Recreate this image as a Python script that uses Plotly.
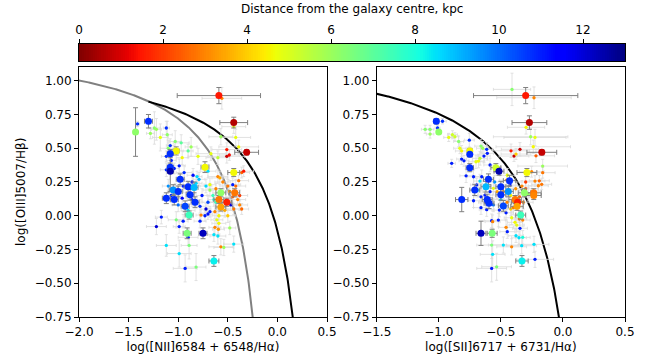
import numpy as np
import plotly.graph_objects as go

# ---------------- data ----------------
# distance-colour range (kpc)
DIST_MIN, DIST_MAX = 0.0, 13.0
cbar_ticks = [0, 2, 4, 6, 8, 10, 12]

# demarcation-line coefficients
KAUFF_NII = (0.61, 0.05, 1.30)   # Kauffmann et al. 2003
KEWLEY_NII = (0.61, 0.47, 1.19)  # Kewley et al. 2001
KEWLEY_SII = (0.72, 0.32, 1.30)  # Kewley et al. 2001

# left panel ([NII]) -- large points
nii_big_x = [-0.59, -0.44, -0.31, -1.30, -1.43, -1.02, -1.08, -1.08, -1.08, -0.98,
             -0.90, -0.84, -0.73, -0.44, -1.05, -1.00, -0.88, -1.12, -1.04, -0.83,
             -0.93, -0.57, -0.43, -0.59, -0.51, -0.57, -0.89, -0.91, -0.75, -0.64]
nii_big_y = [0.89, 0.69, 0.47, 0.70, 0.62, 0.48, 0.46, 0.36, 0.33, 0.27,
             0.215, 0.21, 0.36, 0.32, 0.19, 0.18, 0.155, 0.13, 0.12, 0.10,
             0.07, 0.17, 0.17, 0.12, 0.10, 0.065, 0.005, -0.13, -0.13, -0.335]
nii_big_d = [1.5, 0.6, 0.8, 10.8, 6.2, 4.6, 10.8, 10.8, 12.5, 10.8,
             10.8, 9.0, 4.6, 4.6, 9.5, 10.8, 10.8, 10.8, 10.8, 10.8,
             10.5, 6.2, 2.8, 2.8, 1.6, 3.4, 7.5, 6.5, 12.3, 8.3]
nii_big_ex = [0.42, 0.14, 0.12, 0.04, 0.01, 0.03, 0.03, 0.03, 0.03, 0.04,
              0.04, 0.04, 0.04, 0.06, 0.04, 0.04, 0.04, 0.04, 0.04, 0.04,
              0.04, 0.05, 0.05, 0.05, 0.05, 0.05, 0.04, 0.04, 0.04, 0.05]
nii_big_ey = [0.06, 0.04, 0.02, 0.05, 0.18, 0.03, 0.03, 0.03, 0.15, 0.04,
              0.04, 0.04, 0.04, 0.03, 0.04, 0.04, 0.04, 0.04, 0.04, 0.04,
              0.04, 0.03, 0.03, 0.03, 0.03, 0.03, 0.03, 0.04, 0.04, 0.04]

# left panel ([NII]) -- small points
nii_sm_x = [-1.41, -1.24, -1.22, -1.28, -1.18, -1.12, -1.11, -1.03, -1.10, -1.08,
            -0.97, -0.87, -0.90, -0.80, -0.96, -1.12, -1.07, -0.99, -1.12, -1.04,
            -0.94, -0.85, -0.81, -0.86, -0.82, -1.03, -1.10, -0.95, -1.07, -0.96,
            -1.00, -0.86, -0.90,
            -0.56, -0.44, -0.57, -0.42, -0.39, -0.51, -0.51, -0.485, -0.67, -0.60,
            -0.36, -0.34, -0.60, -0.39, -0.45, -0.70, -0.79, -0.68,
            -0.72, -0.68, -0.65, -0.64, -0.62, -0.55, -0.50, -0.48, -0.45, -0.42,
            -0.40, -0.44, -0.47, -0.53, -0.50, -0.58, -0.62, -0.70, -0.76, -0.78,
            -0.72, -0.68, -0.38, -0.38, -0.36,
            -1.17, -1.22, -1.02, -0.99, -0.95, -0.78, -0.73, -0.70, -0.77, -0.63,
            -0.59, -0.61, -0.59, -0.63, -0.595, -0.48, -0.60, -0.64, -0.90, -0.89,
            -1.12, -0.99, -0.57, -0.54, -0.44, -0.93, -0.82]
nii_sm_y = [0.68, 0.65, 0.64, 0.61, 0.58, 0.65, 0.60, 0.55, 0.50, 0.52,
            0.54, 0.51, 0.48, 0.44, 0.43, 0.44, 0.41, 0.37, 0.34, 0.35,
            0.32, 0.30, 0.29, 0.25, 0.24, 0.18, 0.22, 0.22, 0.15, 0.13,
            0.08, 0.12, 0.04,
            0.87, 0.66, 0.585, 0.58, 0.51, 0.49, 0.44, 0.45, 0.46, 0.43,
            0.32, 0.33, 0.29, 0.26, 0.23, 0.33, 0.27, 0.23,
            0.22, 0.19, 0.15, 0.12, 0.20, 0.25, 0.22, 0.18, 0.14, 0.22,
            0.12, 0.05, 0.08, 0.04, 0.00, 0.28, 0.10, 0.10, 0.15, 0.07,
            0.05, 0.03, 0.15, 0.08, 0.05,
            -0.01, -0.08, -0.03, -0.08, -0.04, -0.04, 0.00, 0.013, 0.005, 0.03,
            0.00, -0.03, -0.056, -0.086, -0.10, -0.09, -0.15, -0.14, -0.16, -0.22,
            -0.22, -0.28, -0.23, -0.235, -0.21, -0.39, -0.38]
nii_sm_d = [10.8, 6.3, 6.0, 6.0, 4.8, 10.8, 6.2, 6.3, 6.3, 10.8,
            7.0, 6.0, 7.0, 4.8, 4.6, 10.8, 11.0, 11.0, 10.8, 11.0,
            10.8, 11.2, 8.6, 11.0, 8.6, 11.0, 9.5, 11.0, 11.0, 11.5,
            10.0, 11.0, 8.5,
            3.0, 4.6, 6.0, 4.8, 4.6, 1.5, 0.8, 1.3, 4.8, 5.4,
            2.5, 1.5, 3.0, 2.8, 11.0, 8.6, 9.0, 4.8,
            8.6, 6.0, 7.5, 8.0, 3.0, 3.0, 2.8, 3.2, 2.5, 2.6,
            3.0, 2.8, 12.0, 3.5, 4.0, 3.5, 7.5, 10.5, 11.0, 10.8,
            12.0, 11.0, 2.0, 3.0, 2.6,
            11.0, 12.0, 6.5, 11.0, 11.0, 11.0, 11.0, 11.2, 3.0, 3.0,
            4.6, 4.8, 4.6, 3.0, 3.2, 6.0, 8.5, 8.5, 11.0, 6.5,
            8.5, 8.5, 3.0, 6.0, 8.5, 11.0, 6.5]
nii_sm_ex = [0.02, 0.06, 0.05, 0.04, 0.08, 0.03, 0.05, 0.06, 0.08, 0.04,
             0.08, 0.06, 0.05, 0.10, 0.06, 0.05, 0.05, 0.06, 0.06, 0.05,
             0.08, 0.06, 0.05, 0.05, 0.06, 0.08, 0.06, 0.06, 0.08, 0.07,
             0.06, 0.05, 0.07,
             0.20, 0.12, 0.12, 0.15, 0.20, 0.15, 0.18, 0.10, 0.15, 0.12,
             0.08, 0.10, 0.10, 0.10, 0.08, 0.08, 0.06, 0.06,
             0.06, 0.07, 0.06, 0.06, 0.08, 0.08, 0.08, 0.08, 0.07, 0.10,
             0.08, 0.07, 0.06, 0.08, 0.08, 0.08, 0.06, 0.06, 0.06, 0.06,
             0.05, 0.05, 0.08, 0.08, 0.07,
             0.06, 0.10, 0.08, 0.06, 0.05, 0.06, 0.05, 0.05, 0.05, 0.08,
             0.07, 0.06, 0.07, 0.06, 0.06, 0.06, 0.08, 0.06, 0.10, 0.08,
             0.10, 0.12, 0.12, 0.10, 0.10, 0.12, 0.10]
nii_sm_ey = [0.02, 0.12, 0.08, 0.04, 0.10, 0.05, 0.10, 0.08, 0.06, 0.05,
             0.06, 0.07, 0.05, 0.06, 0.05, 0.04, 0.06, 0.05, 0.05, 0.04,
             0.05, 0.05, 0.04, 0.05, 0.05, 0.06, 0.05, 0.05, 0.05, 0.06,
             0.05, 0.05, 0.05,
             0.08, 0.05, 0.06, 0.06, 0.05, 0.05, 0.05, 0.04, 0.05, 0.05,
             0.04, 0.04, 0.05, 0.04, 0.05, 0.05, 0.05, 0.05,
             0.05, 0.05, 0.05, 0.05, 0.04, 0.05, 0.05, 0.05, 0.04, 0.05,
             0.04, 0.04, 0.04, 0.05, 0.05, 0.05, 0.05, 0.05, 0.05, 0.05,
             0.04, 0.04, 0.04, 0.04, 0.04,
             0.05, 0.06, 0.06, 0.05, 0.05, 0.05, 0.04, 0.04, 0.04, 0.05,
             0.05, 0.05, 0.05, 0.05, 0.05, 0.05, 0.06, 0.05, 0.06, 0.10,
             0.08, 0.10, 0.06, 0.06, 0.06, 0.10, 0.10]

# right panel ([SII]) -- large points
sii_big_x = [-0.30, -0.27, -0.17, -1.02, -1.00, -0.75, -0.75, -0.75, -0.54, -0.515,
             -0.60, -0.43, -0.29, -0.62, -0.71, -0.50, -0.50, -0.815, -0.61, -0.595,
             -0.48, -0.44, -0.31, -0.235, -0.235, -0.385, -0.365, -0.37, -0.34, -0.57,
             -0.66, -0.33]
sii_big_y = [0.89, 0.69, 0.47, 0.70, 0.62, 0.48, 0.455, 0.356, 0.356, 0.33,
             0.27, 0.26, 0.32, 0.215, 0.19, 0.215, 0.155, 0.12, 0.12, 0.093,
             0.073, 0.18, 0.17, 0.17, 0.15, 0.12, 0.10, 0.07, 0.005, -0.13,
             -0.13, -0.335]
sii_big_d = [1.5, 0.6, 0.8, 10.8, 6.2, 4.6, 10.8, 10.8, 5.2, 12.5,
             10.8, 10.8, 4.6, 9.0, 10.8, 10.8, 10.8, 10.8, 10.8, 10.8,
             10.5, 9.5, 6.2, 2.8, 3.0, 2.8, 1.6, 3.4, 7.5, 6.5,
             12.3, 8.3]
sii_big_ex = [0.42, 0.14, 0.12, 0.02, 0.01, 0.02, 0.02, 0.03, 0.04, 0.04,
              0.04, 0.05, 0.08, 0.04, 0.04, 0.04, 0.04, 0.05, 0.04, 0.04,
              0.04, 0.04, 0.05, 0.06, 0.06, 0.05, 0.05, 0.05, 0.04, 0.04,
              0.04, 0.05]
sii_big_ey = [0.06, 0.05, 0.02, 0.02, 0.01, 0.02, 0.02, 0.03, 0.03, 0.03,
              0.04, 0.04, 0.03, 0.04, 0.04, 0.04, 0.04, 0.09, 0.04, 0.04,
              0.04, 0.04, 0.03, 0.03, 0.03, 0.03, 0.03, 0.03, 0.03, 0.03,
              0.09, 0.04]

# right panel ([SII]) -- small points
sii_sm_x = [-1.11, -1.07, -1.07, -0.97, -1.01, -0.92, -0.89, -0.87, -0.84, -0.83,
            -0.816, -0.754, -0.66, -0.646, -0.614, -0.636, -0.70, -0.68, -0.668, -0.609,
            -0.587, -0.896, -0.816, -0.797, -0.78, -0.72, -0.654, -0.668, -0.695, -0.682,
            -0.628, -0.587, -0.56, -0.53, -0.48, -0.453, -0.448, -0.426, -0.72, -0.66,
            -0.55, -0.50, -0.45, -0.42, -0.40, -0.38, -0.35, -0.32, -0.30, -0.28,
            -0.41, -0.233, -0.297, -0.26, -0.225, -0.239, -0.418, -0.346, -0.394, -0.378,
            -0.217, -0.163, -0.252, -0.163, -0.225, -0.19, -0.171, -0.198, -0.30, -0.33,
            -0.614, -0.574, -0.52, -0.566, -0.512, -0.458, -0.458, -0.413, -0.386, -0.372,
            -0.351, -0.324, -0.346, -0.378, -0.354, -0.324, -0.448, -0.574, -0.48, -0.413,
            -0.332, -0.233, -0.566, -0.225, -0.574, -0.534, -0.62, -0.66, -0.56, -0.42]
sii_sm_y = [0.64, 0.64, 0.605, 0.70, 0.65, 0.58, 0.60, 0.585, 0.55, 0.50,
            0.48, 0.56, 0.516, 0.50, 0.492, 0.442, 0.40, 0.405, 0.425, 0.462,
            0.376, 0.388, 0.42, 0.407, 0.296, 0.289, 0.289, 0.257, 0.228, 0.19,
            0.153, 0.178, 0.203, 0.178, 0.178, 0.264, 0.30, 0.227, 0.111, 0.14,
            0.25, 0.12, 0.10, 0.15, 0.06, 0.20, 0.14, 0.10, 0.20, 0.16,
            0.936, 0.874, 0.655, 0.585, 0.58, 0.511, 0.481, 0.492, 0.442, 0.457,
            0.444, 0.368, 0.326, 0.319, 0.257, 0.259, 0.233, 0.222, 0.25, 0.22,
            0.045, -0.037, -0.032, -0.044, 0.042, 0.022, -0.086, -0.015, -0.049, -0.069,
            -0.024, -0.032, -0.093, -0.148, -0.163, -0.16, -0.118, -0.217, -0.217, -0.23,
            -0.222, -0.212, -0.286, -0.323, -0.39, -0.378, 0.10, 0.06, 0.08, 0.05]
sii_sm_d = [6.3, 6.3, 6.0, 10.8, 10.8, 4.8, 5.2, 5.2, 6.3, 4.8,
            4.6, 10.8, 6.3, 6.0, 10.8, 11.0, 4.8, 4.6, 5.4, 11.0,
            11.0, 11.0, 11.0, 11.0, 11.0, 11.0, 11.0, 8.6, 11.0, 8.6,
            11.0, 11.0, 4.8, 3.5, 3.0, 3.0, 4.8, 11.0, 11.0, 11.0,
            9.5, 8.6, 3.0, 4.6, 2.8, 3.2, 2.6, 3.0, 2.5, 6.0,
            6.3, 3.0, 4.6, 6.0, 4.8, 4.6, 1.5, 0.8, 0.8, 4.0,
            2.5, 6.0, 3.0, 2.8, 3.0, 2.6, 2.8, 3.0, 2.0, 3.0,
            11.0, 11.0, 11.0, 3.0, 11.0, 11.0, 3.0, 4.8, 4.6, 4.8,
            3.0, 3.0, 11.0, 8.5, 8.5, 8.0, 11.0, 6.5, 8.5, 3.0,
            8.5, 8.5, 8.5, 11.0, 11.0, 6.5, 11.0, 11.0, 10.0, 4.0]
sii_sm_ex = [0.03, 0.03, 0.03, 0.03, 0.02, 0.04, 0.04, 0.03, 0.04, 0.05,
             0.05, 0.04, 0.05, 0.05, 0.05, 0.05, 0.06, 0.05, 0.06, 0.05,
             0.05, 0.03, 0.04, 0.04, 0.05, 0.05, 0.05, 0.05, 0.05, 0.05,
             0.06, 0.06, 0.06, 0.06, 0.06, 0.06, 0.06, 0.06, 0.05, 0.06,
             0.06, 0.06, 0.06, 0.08, 0.08, 0.08, 0.08, 0.08, 0.10, 0.08,
             0.15, 0.30, 0.15, 0.30, 0.25, 0.30, 0.15, 0.15, 0.12, 0.12,
             0.15, 0.20, 0.10, 0.10, 0.08, 0.08, 0.08, 0.08, 0.08, 0.08,
             0.06, 0.06, 0.06, 0.06, 0.06, 0.06, 0.06, 0.06, 0.06, 0.06,
             0.06, 0.06, 0.06, 0.06, 0.06, 0.06, 0.06, 0.12, 0.12, 0.12,
             0.12, 0.12, 0.10, 0.15, 0.12, 0.12, 0.06, 0.06, 0.06, 0.06]
sii_sm_ey = [0.03, 0.03, 0.03, 0.02, 0.02, 0.03, 0.03, 0.03, 0.04, 0.04,
             0.04, 0.05, 0.05, 0.05, 0.05, 0.05, 0.05, 0.05, 0.05, 0.05,
             0.05, 0.03, 0.04, 0.04, 0.05, 0.05, 0.05, 0.05, 0.05, 0.05,
             0.05, 0.05, 0.05, 0.05, 0.05, 0.05, 0.05, 0.05, 0.05, 0.05,
             0.05, 0.05, 0.05, 0.05, 0.05, 0.05, 0.05, 0.05, 0.05, 0.05,
             0.12, 0.08, 0.05, 0.06, 0.06, 0.05, 0.05, 0.05, 0.04, 0.04,
             0.05, 0.05, 0.04, 0.04, 0.04, 0.04, 0.04, 0.04, 0.04, 0.04,
             0.05, 0.05, 0.05, 0.05, 0.05, 0.05, 0.05, 0.05, 0.05, 0.05,
             0.05, 0.05, 0.05, 0.05, 0.05, 0.05, 0.05, 0.10, 0.06, 0.06,
             0.06, 0.06, 0.10, 0.06, 0.10, 0.10, 0.05, 0.05, 0.05, 0.05]

# ---------------- colour map (matplotlib "jet", reversed) ----------------
_jet_r = [(0.0, 0, 0), (0.35, 0, 0), (0.66, 1, 1), (0.89, 1, 1), (1.0, 0.5, 0.5)]
_jet_g = [(0.0, 0, 0), (0.125, 0, 0), (0.375, 1, 1), (0.64, 1, 1), (0.91, 0, 0), (1.0, 0, 0)]
_jet_b = [(0.0, 0.5, 0.5), (0.11, 1, 1), (0.34, 1, 1), (0.65, 0, 0), (1.0, 0, 0)]
_bps = sorted(set([p[0] for p in _jet_r + _jet_g + _jet_b]))


def _ch(seg, t):
    return float(np.interp(t, [p[0] for p in seg], [p[1] for p in seg]))


jet_r_scale = []
for t in sorted(_bps, reverse=True):
    r, g, b = (_ch(_jet_r, t), _ch(_jet_g, t), _ch(_jet_b, t))
    jet_r_scale.append([round(1 - t, 4), f"rgb({int(r*255)},{int(g*255)},{int(b*255)})"])

FONT = dict(family="DejaVu Sans", size=12, color="black")

fig = go.Figure()


def demarc(coef, x0, x1, n=400):
    a, b, c = coef
    xs = np.linspace(x0, x1, n)
    return xs, a / (xs - b) + c


def add_panel(xa, ya, curves, sx, sy, sd, sex, sey, bx, by, bd, bex, bey):
    for (xs, ys, col) in curves:
        fig.add_trace(go.Scatter(x=xs, y=ys, mode="lines", xaxis=xa, yaxis=ya,
                                 line=dict(color=col, width=2), hoverinfo="skip",
                                 showlegend=False))
    fig.add_trace(go.Scatter(
        x=sx, y=sy, mode="markers", xaxis=xa, yaxis=ya, showlegend=False,
        error_x=dict(type="data", array=sex, color="#dadada", thickness=0.8, width=1.5),
        error_y=dict(type="data", array=sey, color="#dadada", thickness=0.8, width=1.5),
        marker=dict(size=3.3, color=sd, colorscale=jet_r_scale, cmin=DIST_MIN, cmax=DIST_MAX,
                    line=dict(width=0))))
    fig.add_trace(go.Scatter(
        x=bx, y=by, mode="markers", xaxis=xa, yaxis=ya, showlegend=False,
        error_x=dict(type="data", array=bex, color="#808080", thickness=1, width=2.5),
        error_y=dict(type="data", array=bey, color="#808080", thickness=1, width=2.5),
        marker=dict(size=7, color=bd, colorscale=jet_r_scale, cmin=DIST_MIN, cmax=DIST_MAX,
                    line=dict(width=0))))


kx, ky = demarc(KAUFF_NII, -2.2, -0.235)
ex_, ey_ = demarc(KEWLEY_NII, -1.3, 0.16)
add_panel("x", "y", [(kx, ky, "#808080"), (ex_, ey_, "black")],
          nii_sm_x, nii_sm_y, nii_sm_d, nii_sm_ex, nii_sm_ey,
          nii_big_x, nii_big_y, nii_big_d, nii_big_ex, nii_big_ey)

sx_, sy_ = demarc(KEWLEY_SII, -1.6, -0.02)
add_panel("x2", "y2", [(sx_, sy_, "black")],
          sii_sm_x, sii_sm_y, sii_sm_d, sii_sm_ex, sii_sm_ey,
          sii_big_x, sii_big_y, sii_big_d, sii_big_ex, sii_big_ey)

# colour bar drawn as a heatmap strip
cb_vals = np.linspace(DIST_MIN, DIST_MAX, 256)
fig.add_trace(go.Heatmap(x=cb_vals, y=[0], z=[cb_vals], xaxis="x3", yaxis="y3",
                         colorscale=jet_r_scale, zmin=DIST_MIN, zmax=DIST_MAX,
                         showscale=False, hoverinfo="skip"))

W, H = 656, 360
L1, R1 = 79 / W, 327 / W
L2, R2 = 376.7 / W, 625 / W
B, T = 1 - 317 / H, 1 - 66.7 / H

axis_common = dict(showline=True, mirror=True, linecolor="black", linewidth=1,
                   ticks="outside", ticklen=4, tickwidth=1, tickcolor="black",
                   showgrid=False, zeroline=False, tickfont=FONT, automargin=False)

fig.update_layout(
    width=W, height=H, margin=dict(l=0, r=0, t=0, b=0),
    paper_bgcolor="white", plot_bgcolor="white", font=FONT,
    xaxis=dict(domain=[L1, R1], anchor="y", range=[-2.0, 0.5], dtick=0.5, tickformat=".1f",
               title=dict(text="log([NII]6584 + 6548/Hα)", font=FONT, standoff=4), **axis_common),
    yaxis=dict(domain=[B, T], anchor="x", range=[-0.75, 1.104], tickvals=[-0.75, -0.5, -0.25, 0, 0.25, 0.5, 0.75, 1.0],
               tickformat=".2f", title=dict(text="log([OIII]5007/Hβ)", font=FONT, standoff=6), **axis_common),
    xaxis2=dict(domain=[L2, R2], anchor="y2", range=[-1.5, 0.5], dtick=0.5, tickformat=".1f",
                title=dict(text="log([SII]6717 + 6731/Hα)", font=FONT, standoff=4), **axis_common),
    yaxis2=dict(domain=[B, T], anchor="x2", range=[-0.75, 1.104], tickvals=[-0.75, -0.5, -0.25, 0, 0.25, 0.5, 0.75, 1.0],
                tickformat=".2f", **axis_common),
    xaxis3=dict(domain=[L1, R2], anchor="y3", range=[DIST_MIN, DIST_MAX], side="top",
                tickvals=cbar_ticks, **axis_common),
    yaxis3=dict(domain=[1 - 61 / H, 1 - 44 / H], anchor="x3", range=[-0.5, 0.5],
                showline=True, mirror=True, linecolor="black", linewidth=1, automargin=False,
                showticklabels=False, ticks="", showgrid=False, zeroline=False),
    annotations=[dict(text="Distance from the galaxy centre, kpc", x=(L1 + R2) / 2, y=1 - 9 / H,
                      xref="paper", yref="paper", showarrow=False, font=FONT,
                      xanchor="center", yanchor="middle")],
)

fig.write_html("out.html")
